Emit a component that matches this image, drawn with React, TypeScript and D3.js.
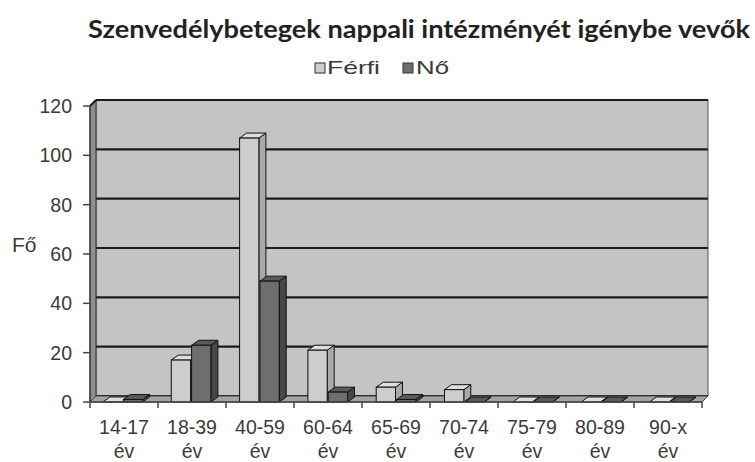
import React from "react";
import * as d3 from "d3";

const categories = ["14-17 év", "18-39 év", "40-59 év", "60-64 év", "65-69 év", "70-74 év", "75-79 év", "80-89 év", "90-x év"];
const seriesNames = ["Férfi", "Nő"];
const ferfi = [0, 17, 107, 21, 6, 5, 0, 0, 0];
const no = [1, 23, 49, 4, 1, 0, 0, 0, 0];
const yTicks = [0, 20, 40, 60, 80, 100, 120];

const W = 755, H = 462;
const X0 = 90, X1 = 702, Y0 = 402, YTOP = 106;
const DX = 6, DY = -6;
const BDX = 7, BDY = -5;

const colors: Record<string, { front: string; top: string; side: string }> = {
  "Férfi": { front: "#cdcdcd", top: "#dedede", side: "#a9a9a9" },
  "Nő": { front: "#6e6e6e", top: "#5a5a5a", side: "#474747" },
};

export default function App() {
  const y = d3.scaleLinear().domain([0, 120]).range([Y0, YTOP]);
  const x0 = d3.scaleBand<string>().domain(categories).range([X0, X1]).paddingInner(0.42).paddingOuter(0.19);
  const x1 = d3.scaleBand<string>().domain(seriesNames).range([0, x0.bandwidth()]).paddingInner(0.05);
  const step = (X1 - X0) / categories.length;
  const data = [ferfi, no];
  const font = "'Liberation Sans', Arial, sans-serif";
  const textCol = "#3a3a3a";

  const bars: React.ReactNode[] = [];
  categories.forEach((c, i) => {
    seriesNames.forEach((s, j) => {
      const v = data[j][i];
      const xl = (x0(c) as number) + (x1(s) as number);
      const w = x1.bandwidth();
      const yt = y(v);
      const col = colors[s];
      const stroke = "#111";
      bars.push(
        <g key={c + s}>
          <polygon points={`${xl + w},${Y0} ${xl + w + BDX},${Y0 + BDY} ${xl + w + BDX},${yt + BDY} ${xl + w},${yt}`} fill={col.side} stroke={stroke} strokeWidth={1} />
          <polygon points={`${xl},${yt} ${xl + BDX},${yt + BDY} ${xl + w + BDX},${yt + BDY} ${xl + w},${yt}`} fill={col.top} stroke={stroke} strokeWidth={1} />
          <rect x={xl} y={yt} width={w} height={Math.max(0, Y0 - yt)} fill={col.front} stroke={stroke} strokeWidth={1} />
        </g>
      );
    });
  });

  return (
    <svg width={W} height={H} style={{ position: "absolute", left: 0, top: 0, background: "#fff" }}>
      <text x={419} y={38} textAnchor="middle" fontFamily="Lato, 'Open Sans', sans-serif" fontWeight="bold" fontSize={25} fill="#222" textLength={662} lengthAdjust="spacingAndGlyphs">
        Szenvedélybetegek nappali intézményét igénybe vevők
      </text>
      {/* legend */}
      <g fontFamily={font} fontSize={19} fill={textCol}>
        <rect x={315} y={63} width={10} height={10} fill={colors["Férfi"].front} stroke="#333" strokeWidth={1} />
        <text x={327} y={74} textLength={53} lengthAdjust="spacingAndGlyphs">Férfi</text>
        <rect x={403} y={63} width={10} height={10} fill={colors["Nő"].front} stroke="#333" strokeWidth={1} />
        <text x={416} y={74} textLength={33} lengthAdjust="spacingAndGlyphs">Nő</text>
      </g>
      {/* back wall */}
      <rect x={X0 + DX} y={y(120) + DY} width={X1 - X0} height={Y0 - y(120)} fill="#c4c4c4" stroke="#555" strokeWidth={1} />
      {/* left wall */}
      <polygon points={`${X0},${y(120)} ${X0 + DX},${y(120) + DY} ${X0 + DX},${Y0 + DY} ${X0},${Y0}`} fill="#8e8e8e" stroke="#333" strokeWidth={1} />
      {/* gridlines */}
      {yTicks.map((t) => (
        <line key={t} x1={X0 + DX} x2={X1 + DX} y1={y(t) + DY} y2={y(t) + DY} stroke="#1c1c1c" strokeWidth={2.2} />
      ))}
      <line x1={X0} y1={y(120)} x2={X0 + DX} y2={y(120) + DY} stroke="#1c1c1c" strokeWidth={2} />
      {/* floor */}
      <polygon points={`${X0},${Y0} ${X0 + DX},${Y0 + DY} ${X1 + DX},${Y0 + DY} ${X1},${Y0}`} fill="#a5a5a5" stroke="#444" strokeWidth={1} />
      {bars}
      {/* axes */}
      <line x1={X0} x2={X0} y1={y(120)} y2={Y0} stroke="#444" strokeWidth={1.5} />
      <line x1={X0} x2={X1} y1={Y0} y2={Y0} stroke="#444" strokeWidth={1.5} />
      {yTicks.map((t) => (
        <g key={"yt" + t}>
          <line x1={X0 - 7} x2={X0} y1={y(t)} y2={y(t)} stroke="#444" strokeWidth={1.5} />
          <text x={72} y={y(t) + 7} textAnchor="end" fontFamily={font} fontSize={19.5} fill={textCol}>{t}</text>
        </g>
      ))}
      {d3.range(categories.length + 1).map((i) => (
        <line key={"xt" + i} x1={X0 + i * step} x2={X0 + i * step} y1={Y0} y2={Y0 + 6} stroke="#444" strokeWidth={1.5} />
      ))}
      {categories.map((c, i) => {
        const [a, b] = c.split(" ");
        const cx = X0 + (i + 0.5) * step;
        return (
          <text key={"xl" + c} x={cx} textAnchor="middle" fontFamily={font} fontSize={19.5} fill={textCol}>
            <tspan x={cx} y={434}>{a}</tspan>
            <tspan x={cx} y={458}>{b}</tspan>
          </text>
        );
      })}
      <text x={12} y={252} fontFamily={font} fontSize={21} fill={textCol}>Fő</text>
    </svg>
  );
}
